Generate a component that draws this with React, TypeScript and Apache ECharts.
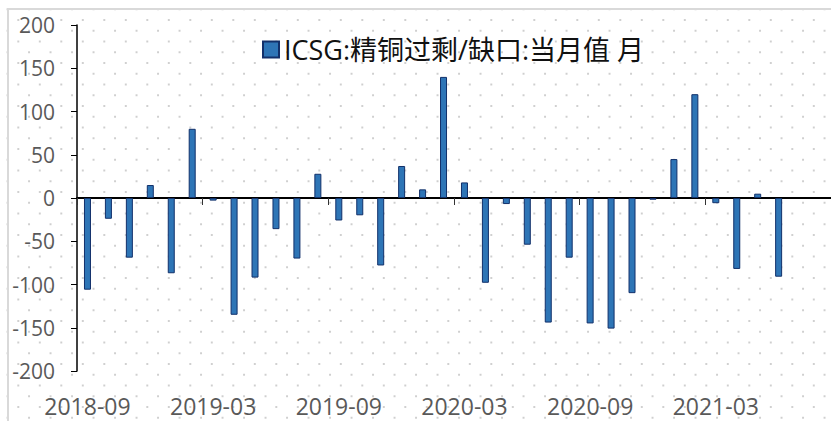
import React, { useEffect, useRef } from "react";
import * as echarts from "echarts";

const seriesName = "ICSG:精铜过剩/缺口:当月值 月";

const categories = [
  "2018-09", "2018-10", "2018-11", "2018-12",
  "2019-01", "2019-02", "2019-03", "2019-04", "2019-05", "2019-06",
  "2019-07", "2019-08", "2019-09", "2019-10", "2019-11", "2019-12",
  "2020-01", "2020-02", "2020-03", "2020-04", "2020-05", "2020-06",
  "2020-07", "2020-08", "2020-09", "2020-10", "2020-11", "2020-12",
  "2021-01", "2021-02", "2021-03", "2021-04", "2021-05", "2021-06",
  "2021-07", "2021-08",
];

const values: (number | null)[] = [
  -106, -24, -69, 15,
  -87, 80, -3, -135, -92, -36,
  -70, 28, -26, -20, -78, 37,
  10, 140, 18, -98, -7, -54,
  -144, -69, -145, -151, -110, -2,
  45, 120, -6, -82, 5, -91,
  null, null,
];

const yMin = -200;
const yMax = 200;
const yStep = 50;

const FONT = "'Open Sans', 'Noto Sans CJK SC', sans-serif";

export default function App() {
  const ref = useRef<HTMLDivElement>(null);

  useEffect(() => {
    if (!ref.current) return;
    const chart = echarts.init(ref.current, null, { renderer: "svg" });
    chart.setOption({
      animation: false,
      graphic: [
        {
          type: "rect",
          shape: { x: 8, y: 9, width: 840, height: 430 },
          style: { fill: "none", stroke: "#d9d9d9", lineWidth: 2 },
          silent: true,
          z: -1,
        },
      ],
      legend: {
        left: 262,
        top: 36,
        padding: 0,
        itemWidth: 16,
        itemHeight: 16,
        itemGap: 10,
        icon: "rect",
        textStyle: {
          fontSize: 27,
          color: "#111",
          fontFamily: FONT,
        },
        data: [seriesName],
      },
      grid: { left: 77, right: 0, top: 25, bottom: 50, containLabel: false },
      xAxis: [
        {
          type: "category",
          data: categories,
          boundaryGap: true,
          axisLine: { show: true, onZero: true, lineStyle: { color: "#000", width: 2 } },
          axisTick: { show: true, interval: 5, length: 7, lineStyle: { color: "#333", width: 1 } },
          axisLabel: { show: false },
          splitLine: { show: false },
        },
        {
          type: "category",
          data: categories,
          position: "bottom",
          boundaryGap: true,
          axisLine: { show: false, onZero: false },
          axisTick: { show: false },
          axisLabel: {
            show: true,
            interval: 5,
            margin: 24,
            fontSize: 23,
            lineHeight: 21,
            color: "#595959",
            fontFamily: FONT,
          },
          splitLine: { show: false },
        },
      ],
      yAxis: {
        type: "value",
        min: yMin,
        max: yMax,
        interval: yStep,
        axisLine: { show: true, lineStyle: { color: "#000", width: 1.5 } },
        axisTick: { show: true, inside: false, length: 6, lineStyle: { color: "#000", width: 1 } },
        axisLabel: {
          margin: 22,
          fontSize: 21,
          color: "#595959",
          fontFamily: FONT,
        },
        splitLine: { show: false },
      },
      series: [
        {
          name: seriesName,
          type: "bar",
          xAxisIndex: 0,
          data: values,
          barWidth: 7,
          itemStyle: {
            color: "#2E75B6",
            borderColor: "#12306A",
            borderWidth: 1,
          },
        },
      ],
    });
    return () => chart.dispose();
  }, []);

  const dot = "radial-gradient(circle, #cfcfcf 0, #cfcfcf 1px, rgba(255,255,255,0) 1.4px)";

  return (
    <div
      ref={ref}
      style={{
        position: "absolute",
        left: 0,
        top: 0,
        width: 831,
        height: 421,
        backgroundColor: "#fff",
        backgroundImage: `${dot}, ${dot}`,
        backgroundSize: "21.5px 21.5px, 21.5px 21.5px",
        backgroundPosition: "7.55px 9.25px, 18.3px 20px",
      }}
    />
  );
}
